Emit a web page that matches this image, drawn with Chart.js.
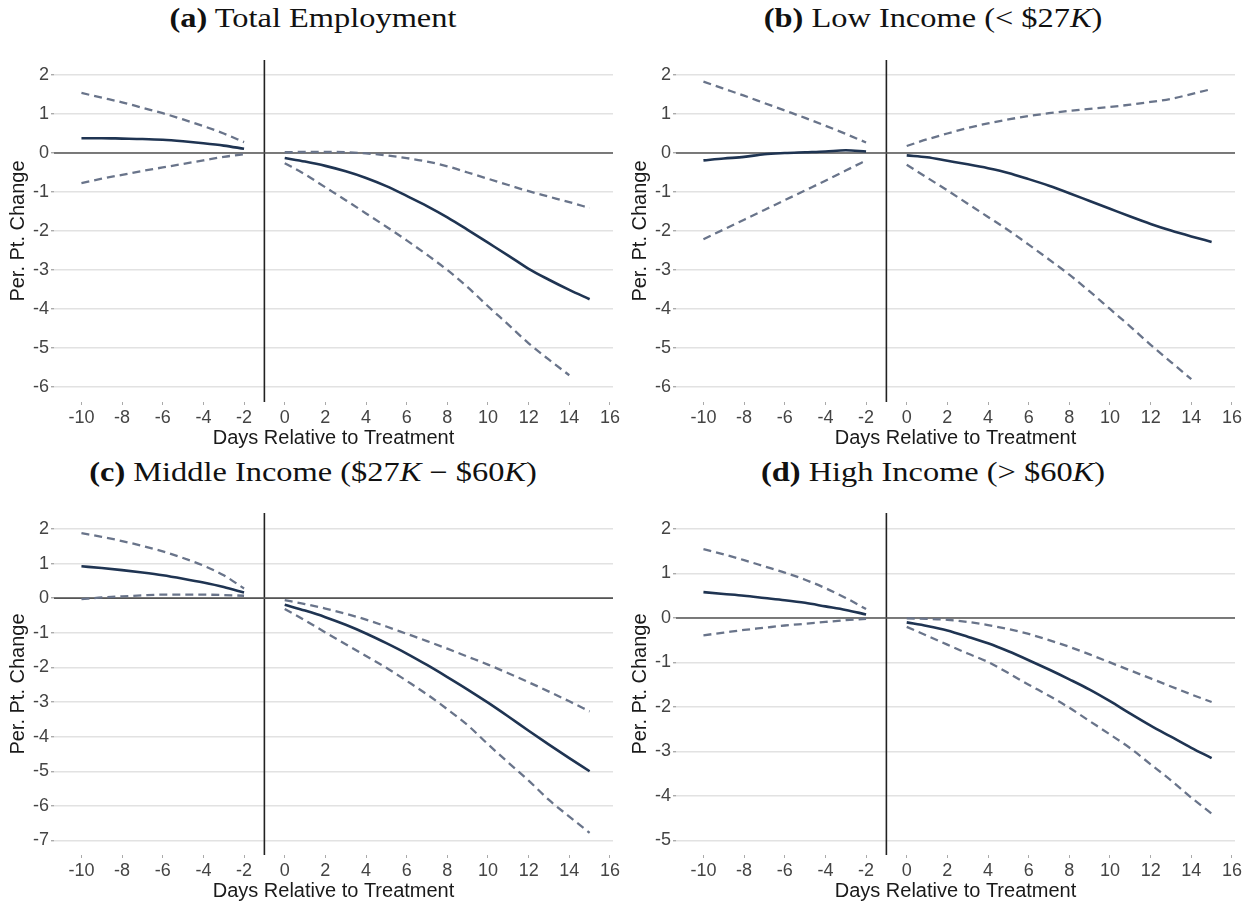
<!DOCTYPE html>
<html>
<head>
<meta charset="utf-8">
<script src="https://cdn.jsdelivr.net/npm/chart.js@4.4.0/dist/chart.umd.min.js"></script>
<style>
  body { margin: 0; background: #fff; width: 1253px; height: 907px; position: relative; overflow: hidden; }
  .title { position: absolute; width: 626px; text-align: center; font-family: "Liberation Serif", "DejaVu Serif", serif; font-size: 27px; line-height: 32px; color: #111; white-space: nowrap; transform: scaleX(1.2); }
  .panel { position: absolute; }
</style>
</head>
<body>
<div class="title" style="left:0;top:2px"><b>(a)</b> Total Employment</div>
<div class="title" style="left:620px;top:2px"><b>(b)</b> Low Income (&lt; $27<i>K</i>)</div>
<div class="title" style="left:0;top:456px"><b>(c)</b> Middle Income ($27<i>K</i> &minus; $60<i>K</i>)</div>
<div class="title" style="left:620px;top:456px"><b>(d)</b> High Income (&gt; $60<i>K</i>)</div>

<canvas class="panel" id="chartA" width="626" height="413" style="left:0;top:40px"></canvas>
<canvas class="panel" id="chartB" width="626" height="413" style="left:622px;top:40px"></canvas>
<canvas class="panel" id="chartC" width="626" height="413" style="left:0;top:493px"></canvas>
<canvas class="panel" id="chartD" width="626" height="413" style="left:622px;top:493px"></canvas>

<script>
// Event-study panels: estimate plus dashed confidence bounds

Chart.defaults.font.family = '"Liberation Sans", Arial, Helvetica, sans-serif';
Chart.defaults.font.size = 18;

// days on the x axis
const preDays = [-10, -9, -8, -7, -6, -5, -4, -3, -2];
const postDays = [0, 1, 2, 3, 4, 5, 6, 7, 8, 9, 10, 11, 12, 13, 14, 15];
const xTicks = [-10, -8, -6, -4, -2, 0, 2, 4, 6, 8, 10, 12, 14, 16];

// (a) Total Employment
const totalPreEst = [0.38, 0.38, 0.37, 0.36, 0.34, 0.30, 0.25, 0.19, 0.11];
const totalPreHi = [1.54, 1.42, 1.30, 1.16, 1.02, 0.86, 0.69, 0.50, 0.28];
const totalPreLo = [-0.77, -0.66, -0.56, -0.46, -0.37, -0.28, -0.19, -0.10, -0.03];
const totalPostEst = [-0.13, -0.22, -0.33, -0.47, -0.64, -0.85, -1.10, -1.36, -1.65, -1.97, -2.30, -2.63, -2.97, -3.25, -3.51, -3.75];
const totalPostHi = [0.02, 0.03, 0.03, 0.02, -0.01, -0.06, -0.13, -0.22, -0.34, -0.50, -0.66, -0.82, -0.98, -1.12, -1.26, -1.41];
const totalPostLo = [-0.26, -0.55, -0.88, -1.21, -1.55, -1.89, -2.24, -2.61, -3.00, -3.44, -3.93, -4.40, -4.88, -5.30, -5.70, null];
const totalYTicks = [-6, -5, -4, -3, -2, -1, 0, 1, 2];

// (b) Low income
const lowPreEst = [-0.19, -0.14, -0.10, -0.03, 0.00, 0.02, 0.04, 0.07, 0.04];
const lowPreHi = [1.83, 1.65, 1.47, 1.28, 1.09, 0.90, 0.70, 0.49, 0.27];
const lowPreLo = [-2.21, -1.96, -1.71, -1.46, -1.21, -0.96, -0.71, -0.45, -0.19];
const lowPostEst = [-0.06, -0.11, -0.20, -0.29, -0.39, -0.51, -0.67, -0.84, -1.03, -1.23, -1.43, -1.63, -1.82, -1.99, -2.14, -2.28];
const lowPostHi = [0.18, 0.35, 0.50, 0.64, 0.76, 0.86, 0.95, 1.02, 1.08, 1.13, 1.18, 1.24, 1.31, 1.39, 1.51, 1.64];
const lowPostLo = [-0.30, -0.63, -0.96, -1.30, -1.64, -1.98, -2.35, -2.73, -3.12, -3.55, -4.00, -4.45, -4.92, -5.36, -5.80, null];
const lowYTicks = [-6, -5, -4, -3, -2, -1, 0, 1, 2];

// (c) Middle income
const midPreEst = [0.92, 0.87, 0.81, 0.74, 0.66, 0.56, 0.45, 0.32, 0.16];
const midPreHi = [1.88, 1.77, 1.65, 1.51, 1.35, 1.16, 0.94, 0.66, 0.28];
const midPreLo = [-0.03, 0.02, 0.05, 0.08, 0.10, 0.10, 0.10, 0.09, 0.07];
const midPostEst = [-0.19, -0.36, -0.55, -0.77, -1.02, -1.30, -1.60, -1.93, -2.28, -2.64, -3.02, -3.42, -3.83, -4.23, -4.62, -5.00];
const midPostHi = [-0.06, -0.17, -0.30, -0.45, -0.62, -0.82, -1.03, -1.24, -1.46, -1.69, -1.92, -2.17, -2.43, -2.70, -2.98, -3.27];
const midPostLo = [-0.31, -0.64, -0.99, -1.33, -1.67, -2.01, -2.39, -2.78, -3.21, -3.67, -4.22, -4.75, -5.27, -5.83, -6.31, -6.78];
const midYTicks = [-7, -6, -5, -4, -3, -2, -1, 0, 1, 2];

// (d) High income
const highPreEst = [0.58, 0.54, 0.50, 0.45, 0.40, 0.34, 0.26, 0.18, 0.08];
const highPreHi = [1.55, 1.43, 1.30, 1.16, 1.02, 0.86, 0.67, 0.45, 0.20];
const highPreLo = [-0.39, -0.33, -0.27, -0.22, -0.17, -0.13, -0.09, -0.05, -0.02];
const highPostEst = [-0.10, -0.18, -0.28, -0.42, -0.57, -0.75, -0.95, -1.16, -1.38, -1.61, -1.87, -2.15, -2.42, -2.67, -2.92, -3.15];
const highPostHi = [-0.01, -0.02, -0.04, -0.09, -0.16, -0.25, -0.36, -0.50, -0.65, -0.82, -1.00, -1.18, -1.36, -1.54, -1.72, -1.89];
const highPostLo = [-0.20, -0.40, -0.60, -0.80, -0.99, -1.24, -1.50, -1.75, -2.02, -2.32, -2.62, -2.93, -3.29, -3.65, -4.04, -4.40];
const highYTicks = [-5, -4, -3, -2, -1, 0, 1, 2];

const colors = {
    est: '#1f3452',
    band: '#69748a',
    grid: '#e2e2e2',
    zero: '#555555',
    vline: '#222222',
    tick: '#444444',
    label: '#1a1a1a'
};

const X_MIN = -11.35;
const X_MAX = 16.15;

function toPoints(days, values) {
    return days.map((d, i) => ({ x: d, y: values[i] })).filter(p => p.y !== null);
}

function estLine(days, values) {
    return {
        data: toPoints(days, values),
        borderColor: colors.est,
        borderWidth: 2.6,
        pointRadius: 0,
        cubicInterpolationMode: 'monotone',
        order: 1
    };
}

function bandLine(days, values) {
    return {
        data: toPoints(days, values),
        borderColor: colors.band,
        borderWidth: 2.3,
        borderDash: [8, 5],
        pointRadius: 0,
        cubicInterpolationMode: 'monotone',
        order: 2
    };
}

function makePanel(id, s, yTicks, yMin, yMax) {
    const ctx = document.getElementById(id);
    new Chart(ctx, {
        type: 'line',
        data: {
            datasets: [
                // reference lines at y = 0 and between day -2 and day 0
                { data: [{ x: X_MIN, y: 0 }, { x: X_MAX, y: 0 }], borderColor: colors.zero, borderWidth: 1.6, pointRadius: 0, order: 5 },
                { data: [{ x: -1, y: yMin }, { x: -1, y: yMax }], borderColor: colors.vline, borderWidth: 1.6, pointRadius: 0, order: 5 },
                bandLine(preDays, s.preHi),
                bandLine(preDays, s.preLo),
                bandLine(postDays, s.postHi),
                bandLine(postDays, s.postLo),
                estLine(preDays, s.preEst),
                estLine(postDays, s.postEst)
            ]
        },
        options: {
            responsive: false,
            animation: false,
            layout: { padding: { top: 20, right: 13, left: 0, bottom: 0 } },
            plugins: { legend: { display: false }, tooltip: { enabled: false } },
            scales: {
                x: {
                    type: 'linear',
                    min: X_MIN,
                    max: X_MAX,
                    afterBuildTicks: scale => { scale.ticks = xTicks.map(v => ({ value: v })); },
                    afterFit: scale => { scale.height = 51; },
                    grid: { drawOnChartArea: false, drawTicks: true, tickLength: 3, tickColor: '#aaaaaa' },
                    border: { display: false },
                    ticks: { color: colors.tick, padding: 2, maxRotation: 0, autoSkip: false, font: { size: 18 } },
                    title: { display: true, text: 'Days Relative to Treatment', color: colors.label, font: { size: 20 }, padding: { top: 0, bottom: 3 } }
                },
                y: {
                    min: yMin,
                    max: yMax,
                    afterBuildTicks: scale => { scale.ticks = yTicks.map(v => ({ value: v })); },
                    afterFit: scale => { scale.width = 54; },
                    grid: { color: colors.grid, lineWidth: 1.4, drawTicks: true, tickLength: 3, tickColor: '#aaaaaa' },
                    border: { display: false },
                    ticks: { color: colors.tick, padding: 2, font: { size: 18 } },
                    title: { display: true, text: 'Per. Pt. Change', color: colors.label, font: { size: 20 }, padding: { top: 6, bottom: 0 } }
                }
            }
        }
    });
}

makePanel('chartA', { preEst: totalPreEst, preHi: totalPreHi, preLo: totalPreLo, postEst: totalPostEst, postHi: totalPostHi, postLo: totalPostLo }, totalYTicks, -6.385, 2.385);
makePanel('chartB', { preEst: lowPreEst, preHi: lowPreHi, preLo: lowPreLo, postEst: lowPostEst, postHi: lowPostHi, postLo: lowPostLo }, lowYTicks, -6.385, 2.385);
makePanel('chartC', { preEst: midPreEst, preHi: midPreHi, preLo: midPreLo, postEst: midPostEst, postHi: midPostHi, postLo: midPostLo }, midYTicks, -7.42, 2.46);
makePanel('chartD', { preEst: highPreEst, preHi: highPreHi, preLo: highPreLo, postEst: highPostEst, postHi: highPostHi, postLo: highPostLo }, highYTicks, -5.33, 2.36);
</script>
</body>
</html>
